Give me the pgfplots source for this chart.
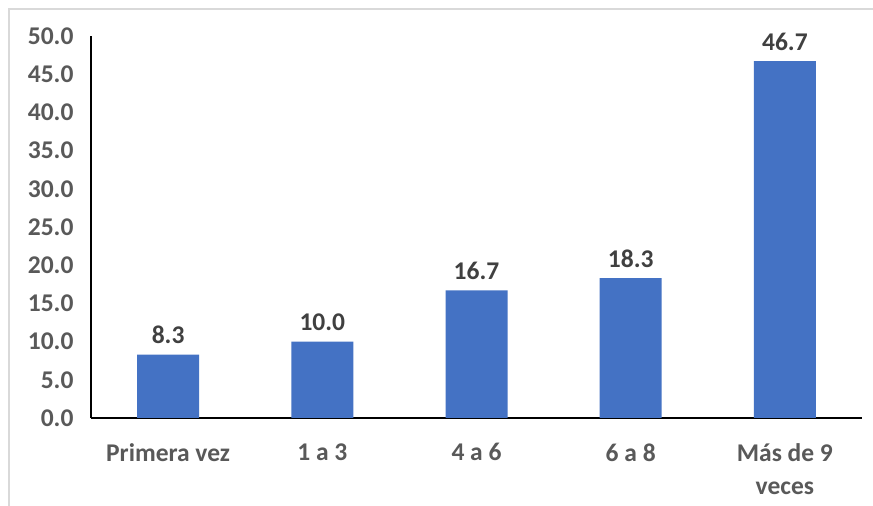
\documentclass[border=0pt]{standalone}
\usepackage{pgfplots}
\pgfplotsset{compat=1.18}
\usepackage{fontspec}
\setmainfont{Carlito}
\definecolor{barblue}{HTML}{4472C4}
\definecolor{tickgray}{HTML}{595959}
\definecolor{labgray}{HTML}{404040}
\definecolor{frame}{HTML}{D9D9D9}
\begin{document}
\begin{tikzpicture}[x=1pt,y=1pt]
\path[use as bounding box,fill=white] (0,0) rectangle (873,506);
\draw[frame,line width=1.2pt] (9,0) -- (9,497) -- (873,497);
\begin{axis}[
  at={(91pt,88pt)}, anchor=south west,
  scale only axis, width=771pt, height=382pt,
  xmin=-0.5, xmax=4.5, ymin=0, ymax=50,
  ybar, bar width=62pt,
  axis x line*=bottom, axis y line*=left,
  axis line style={-, line width=2.6pt, black},
  xtick=data,
  xticklabels={Primera vez, 1 a 3, 4 a 6, 6 a 8, {Más de 9\\veces}},
  ytick={0,5,...,50},
  major tick length=0pt,
  /pgf/number format/assume math mode=true,
  yticklabel={\pgfmathprintnumber[fixed,fixed zerofill,precision=1]{\tick}},
  tick label style={font=\fontsize{25.5}{33}\selectfont\bfseries, text=tickgray},
  yticklabel style={xshift=-14pt},
  xticklabel style={align=center, yshift=-22pt},
  nodes near coords={\pgfmathprintnumber[fixed,fixed zerofill,precision=1]{\pgfplotspointmeta}},
  nodes near coords style={font=\fontsize{25.5}{30}\selectfont\bfseries, text=labgray, yshift=7pt},
  clip=false,
]
\addplot[fill=barblue, draw=none] coordinates {(0,8.3) (1,10.0) (2,16.7) (3,18.3) (4,46.7)};
\end{axis}
\end{tikzpicture}
\end{document}
